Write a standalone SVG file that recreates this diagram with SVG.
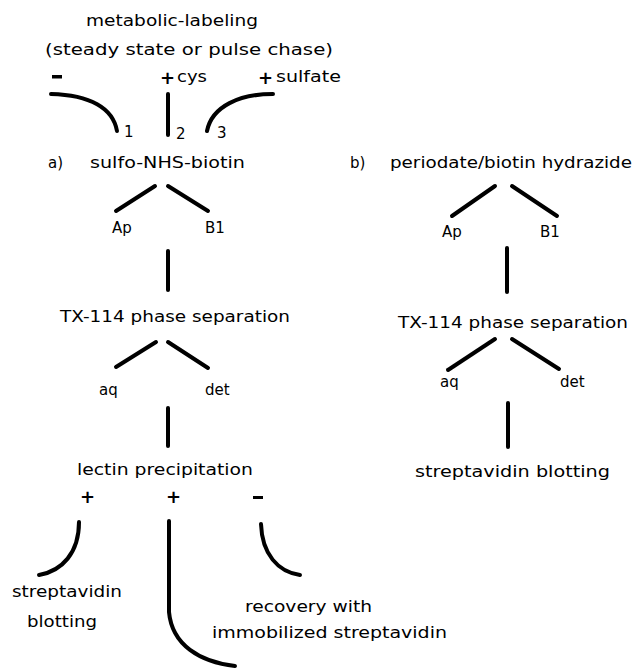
<svg xmlns="http://www.w3.org/2000/svg" width="634" height="669" viewBox="0 0 634 669">
<style>
text{font-family:"DejaVu Sans","Liberation Sans",sans-serif;font-size:15px;fill:#000}
.s{font-weight:bold;font-size:18px}
.c{fill:none;stroke:#000;stroke-width:4;stroke-linecap:round}
</style>
<rect width="634" height="669" fill="#fff"/>
<g id="connectors">
<path class="c" d="M51,94 C90,95 113,108 117,131"/>
<path class="c" d="M168,94 L168,135"/>
<path class="c" d="M273,94 C240,94 212,106 207,131"/>
<path class="c" d="M155,186 L116,211"/>
<path class="c" d="M168,186 L208,211"/>
<path class="c" d="M168,251 L168,290"/>
<path class="c" d="M156,342 L116,367"/>
<path class="c" d="M168,342 L208,368"/>
<path class="c" d="M168,408 L168,446"/>
<path class="c" d="M79,522 C79,553 62,571 39,575"/>
<path class="c" d="M169,521 L169,612 C172,645 200,662 235,666"/>
<path class="c" d="M261,524 C262,554 278,572 300,575"/>
<path class="c" d="M495,186 L452,216"/>
<path class="c" d="M512,186 L557,216"/>
<path class="c" d="M507,248 L507,292"/>
<path class="c" d="M495,339 L448,370"/>
<path class="c" d="M512,339 L559,369"/>
<path class="c" d="M508,403 L508,447"/>
</g>
<g id="metabolic">
<text x="86" y="26" textLength="172" lengthAdjust="spacingAndGlyphs">metabolic-labeling</text>
<text x="45" y="55" textLength="288" lengthAdjust="spacingAndGlyphs">(steady state or pulse chase)</text>
</g>
<g id="minus-top"><rect x="52" y="75" width="10" height="3.5"/></g>
<g id="plus-cys"><text class="s" x="160" y="84">+</text><text x="177" y="82" textLength="30" lengthAdjust="spacingAndGlyphs">cys</text></g>
<g id="plus-sulfate"><text class="s" x="258" y="84">+</text><text x="276" y="82" textLength="65" lengthAdjust="spacingAndGlyphs">sulfate</text></g>
<g id="nums">
<text x="124" y="137" font-size="14">1</text>
<text x="176" y="139" font-size="14">2</text>
<text x="217" y="138" font-size="14">3</text>
</g>
<g id="sulfo">
<text x="48" y="168">a)</text>
<text x="90" y="168" textLength="155" lengthAdjust="spacingAndGlyphs">sulfo-NHS-biotin</text>
</g>
<g id="periodate">
<text x="350" y="168">b)</text>
<text x="390" y="168" textLength="242" lengthAdjust="spacingAndGlyphs">periodate/biotin hydrazide</text>
</g>
<g id="ap-a"><text x="112" y="233">Ap</text></g>
<g id="b1-a"><text x="205" y="233">B1</text></g>
<g id="tx-a"><text x="60" y="322" textLength="230" lengthAdjust="spacingAndGlyphs">TX-114 phase separation</text></g>
<g id="aq-a"><text x="99" y="395">aq</text></g>
<g id="det-a"><text x="205" y="395">det</text></g>
<g id="lectin"><text x="77" y="475" textLength="176" lengthAdjust="spacingAndGlyphs">lectin precipitation</text></g>
<g id="signs">
<text class="s" x="80" y="503">+</text>
<text class="s" x="166" y="503">+</text>
<rect x="253" y="496" width="10" height="3"/>
</g>
<g id="strep-a"><text x="12" y="597" textLength="110" lengthAdjust="spacingAndGlyphs">streptavidin</text><text x="27" y="627" textLength="70" lengthAdjust="spacingAndGlyphs">blotting</text></g>
<g id="recovery"><text x="245" y="612" textLength="127" lengthAdjust="spacingAndGlyphs">recovery with</text><text x="212" y="638" textLength="235" lengthAdjust="spacingAndGlyphs">immobilized streptavidin</text></g>
<g id="ap-b"><text x="442" y="237">Ap</text></g>
<g id="b1-b"><text x="540" y="237">B1</text></g>
<g id="tx-b"><text x="398" y="328" textLength="230" lengthAdjust="spacingAndGlyphs">TX-114 phase separation</text></g>
<g id="aq-b"><text x="440" y="387">aq</text></g>
<g id="det-b"><text x="560" y="387">det</text></g>
<g id="strep-b"><text x="415" y="477" textLength="195" lengthAdjust="spacingAndGlyphs">streptavidin blotting</text></g>
</svg>
